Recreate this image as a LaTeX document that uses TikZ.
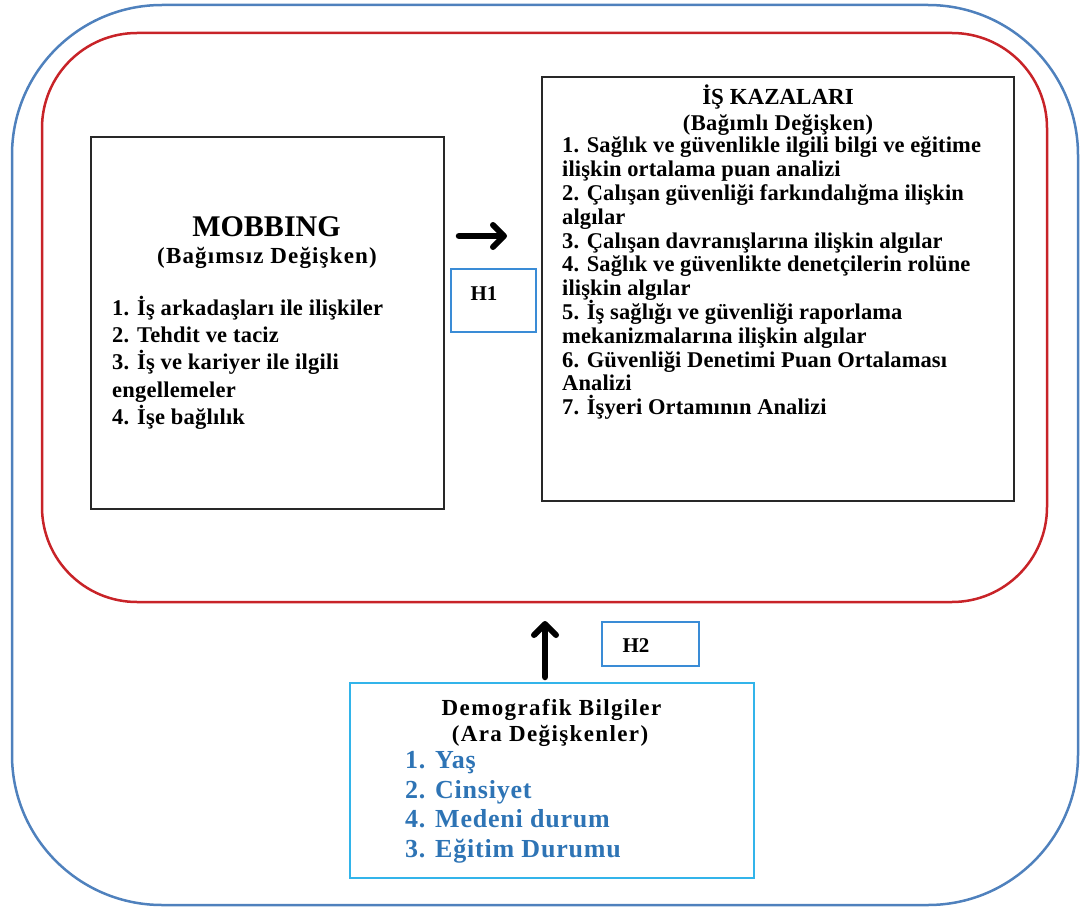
\documentclass[tikz,border=0pt]{standalone}
\usepackage{fontspec}
\setmainfont{Liberation Serif}
\usetikzlibrary{arrows.meta}

\definecolor{outerblue}{RGB}{79,129,189}
\definecolor{framered}{RGB}{200,35,40}
\definecolor{boxgray}{RGB}{40,40,40}
\definecolor{hypblue}{RGB}{58,140,214}
\definecolor{demoframe}{RGB}{50,180,234}
\definecolor{listblue}{RGB}{46,116,181}

% stack of lines with a fixed baseline distance; baseline = first line
\newcommand{\rowstack}[2]{\vtop{\baselineskip=#1\lineskiplimit=-100pt\lineskip=0pt\relax #2}}
% bold text at a given size with some tracking
\newcommand{\spaced}[2]{\bfseries\fontsize{#1}{#1}\selectfont\addfontfeature{LetterSpace=#2}}

\tikzset{
  frame/.style={line width=2.5pt},
  varbox/.style={draw=boxgray, line width=2.2pt, inner sep=0pt, outer sep=0pt, anchor=north west},
  hypbox/.style={draw=hypblue, line width=1.5pt, inner sep=0pt, outer sep=0pt, anchor=north west},
  demobox/.style={draw=demoframe, line width=2.5pt, inner sep=0pt, outer sep=0pt, anchor=north west},
  txt/.style={inner sep=0pt, font=\bfseries},
  effect/.style={line width=6.5pt, line cap=round,
    -{Straight Barb[length=11pt,width=22pt,line width=6pt,round]}},
}

\begin{document}
\begin{tikzpicture}[x=1pt,y=-1pt]
\useasboundingbox (0,0) rectangle (1080,907);

% enclosing frames
\draw[frame, draw=outerblue, rounded corners=150pt] (12,5) rectangle (1078,905);
\draw[frame, draw=framered, rounded corners=95pt] (42,33) rectangle (1047,602);

% independent variable
\node[varbox, minimum width=353, minimum height=372] (mob) at (91,137) {};
\node[txt, anchor=base, font=\spaced{30}{0}] (mobt) at (266.5,236) {MOBBING};
\node[txt, anchor=base, font=\spaced{23}{5}] (mobs) at (267,263) {(Bağımsız Değişken)};
\node[txt, anchor=base west, font=\spaced{22.5}{1}] (mobl) at (112,315)
  {\rowstack{27.4pt}{%
    \hbox{1. İş arkadaşları ile ilişkiler}
    \hbox{2. Tehdit ve taciz}
    \hbox{3. İş ve kariyer ile ilgili}
    \hbox{engellemeler}
    \hbox{4. İşe bağlılık}}};

% dependent variable
\node[varbox, minimum width=472, minimum height=424] (kaza) at (542,77) {};
\node[txt, anchor=base, font=\spaced{23}{0}] (kazat) at (778,105) {İŞ KAZALARI};
\node[txt, anchor=base, font=\spaced{22.5}{2}] (kazas) at (778,130) {(Bağımlı Değişken)};
\node[txt, anchor=base west, font=\spaced{22.5}{0.5}] (kazal) at (562,153)
  {\rowstack{23.8pt}{%
    \hbox{1. Sağlık ve güvenlikle ilgili bilgi ve eğitime}
    \hbox{ilişkin ortalama puan analizi}
    \hbox{2. Çalışan güvenliği farkındalığma ilişkin}
    \hbox{algılar}
    \hbox{3. Çalışan davranışlarına ilişkin algılar}
    \hbox{4. Sağlık ve güvenlikte denetçilerin rolüne}
    \hbox{ilişkin algılar}
    \hbox{5. İş sağlığı ve güvenliği raporlama}
    \hbox{mekanizmalarına ilişkin algılar}
    \hbox{6. Güvenliği Denetimi Puan Ortalaması}
    \hbox{Analizi}
    \hbox{7. İşyeri Ortamının Analizi}}};

% hypothesis H1
\coordinate (h1from) at (459,236);
\coordinate (h1to) at (507,236);
\draw[effect] (h1from) -- (h1to);
\node[hypbox, minimum width=85, minimum height=63] (h1) at (451,269) {};
\node[txt, anchor=base, font=\spaced{21}{0}] (h1t) at (484,300.5) {H1};

% moderating variables
\node[demobox, minimum width=404, minimum height=195] (demo) at (350,683) {};
\node[txt, anchor=base, font=\spaced{23}{6}] (demot) at (551.5,715) {Demografik Bilgiler};
\node[txt, anchor=base, font=\spaced{23}{6}] (demos) at (550,741.5) {(Ara Değişkenler)};
\node[txt, anchor=base west, text=listblue, font=\spaced{26}{3}] (demol) at (405,768.3)
  {\rowstack{29.7pt}{%
    \hbox{1. Yaş}
    \hbox{2. Cinsiyet}
    \hbox{4. Medeni durum}
    \hbox{3. Eğitim Durumu}}};

% hypothesis H2
\coordinate (h2from) at (545,677);
\coordinate (h2to) at (545,621);
\draw[effect] (h2from) -- (h2to);
\node[hypbox, minimum width=97, minimum height=44] (h2) at (602,622) {};
\node[txt, anchor=base, font=\spaced{21}{0}] (h2t) at (636,652.5) {H2};
\end{tikzpicture}
\end{document}
